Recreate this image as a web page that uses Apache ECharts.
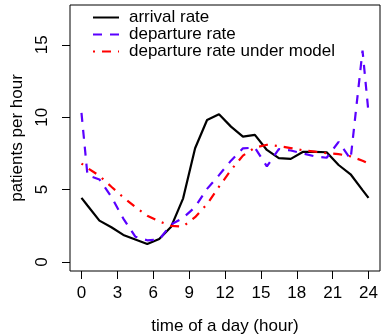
<!DOCTYPE html>
<html>
<head>
<meta charset="utf-8">
<script src="https://cdn.jsdelivr.net/npm/echarts@6/dist/echarts.min.js"></script>
<style>html,body{margin:0;padding:0;background:#fff;}#c{width:381px;height:334px;}</style>
</head>
<body>
<div id="c"></div>
<script>
var hours = [0, 0.5, 1.5, 2.5, 3.5, 4.5, 5.5, 6.5, 7.5, 8.5, 9.5, 10.5, 11.5, 12.5, 13.5, 14.5, 15.5, 16.5, 17.5, 18.5, 19.5, 20.5, 21.5, 22.5, 23.5, 24];
var arrivalRate = [4.43, 3.9, 2.86, 2.4, 1.87, 1.56, 1.25, 1.59, 2.44, 4.4, 7.86, 9.81, 10.2, 9.35, 8.66, 8.78, 7.74, 7.17, 7.12, 7.6, 7.6, 7.58, 6.7, 6.06, 4.97, 4.43];
var departureRate = [10.3, 6.0, 5.7, 4.5, 3.0, 1.75, 1.5, 1.55, 2.6, 3.05, 3.8, 5.05, 6.0, 7.0, 7.85, 7.9, 6.6, 7.8, 7.7, 7.5, 7.3, 7.2, 8.3, 7.1, 14.6, 10.3];
var modelRate = [6.8, 6.5, 5.95, 5.2, 4.47, 3.8, 3.2, 2.8, 2.5, 2.45, 3.1, 4.0, 5.2, 6.35, 7.35, 7.9, 8.1, 8.0, 7.87, 7.72, 7.62, 7.52, 7.45, 7.3, 7.0, 6.8];
var xTicks = [0, 3, 6, 9, 12, 15, 18, 21, 24];
var yTicks = [0, 5, 10, 15];
var seriesNames = ['arrival rate', 'departure rate', 'departure rate under model'];

function pairs(vals) { return hours.map(function (h, i) { return [h, vals[i]]; }); }
var FONT = 'Liberation Sans, Arial, Helvetica, sans-serif';

var chart = echarts.init(document.getElementById('c'), null, {renderer: 'canvas'});
chart.setOption({
  animation: false,
  backgroundColor: '#fff',
  grid: {left: 70, right: 1, top: 5, bottom: 63, show: true, borderColor: '#000', borderWidth: 1,
         backgroundColor: 'transparent', containLabel: false, outerBoundsMode: 'none'},
  legend: {
    left: 92, top: 9, padding: 0, orient: 'vertical', itemWidth: 26, itemHeight: 14, itemGap: 0,
    itemStyle: {opacity: 0},
    textStyle: {fontSize: 17, lineHeight: 14, fontFamily: FONT, color: '#000', padding: [0, 0, 0, 5]},
    data: seriesNames
  },
  xAxis: {
    type: 'value', min: -0.96, max: 24.96,
    name: 'time of a day (hour)', nameLocation: 'middle', nameGap: 47,
    nameTextStyle: {fontSize: 17, fontFamily: FONT, color: '#000'},
    axisLine: {show: false, onZero: false},
    splitLine: {show: false},
    axisTick: {show: true, length: 8, lineStyle: {color: '#000', width: 1}, customValues: xTicks},
    axisLabel: {fontSize: 17, fontFamily: FONT, color: '#000', margin: 14, customValues: xTicks}
  },
  yAxis: {
    type: 'value', min: -0.62, max: 17.75,
    name: 'patients per hour', nameLocation: 'middle', nameGap: 35, nameRotate: 90,
    nameTextStyle: {fontSize: 17, fontFamily: FONT, color: '#000'},
    axisLine: {show: false, onZero: false},
    splitLine: {show: false},
    axisTick: {show: true, length: 8, lineStyle: {color: '#000', width: 1}, customValues: yTicks},
    axisLabel: {fontSize: 17, fontFamily: FONT, color: '#000', margin: 19.5, rotate: 90, customValues: yTicks}
  },
  series: [
    {name: seriesNames[0], type: 'line', data: pairs(arrivalRate), symbol: 'none', showSymbol: false,
     lineStyle: {color: '#000', width: 2.2, type: 'solid'}, itemStyle: {color: '#000'}},
    {name: seriesNames[1], type: 'line', data: pairs(departureRate), symbol: 'none', showSymbol: false,
     lineStyle: {color: '#5a00ff', width: 2.2, type: [9, 8]}, itemStyle: {color: '#5a00ff'}},
    {name: seriesNames[2], type: 'line', data: pairs(modelRate), symbol: 'none', showSymbol: false,
     lineStyle: {color: '#ff0000', width: 2.2, type: [2, 7, 9, 7]}, itemStyle: {color: '#ff0000'}}
  ]
});
</script>
</body>
</html>
